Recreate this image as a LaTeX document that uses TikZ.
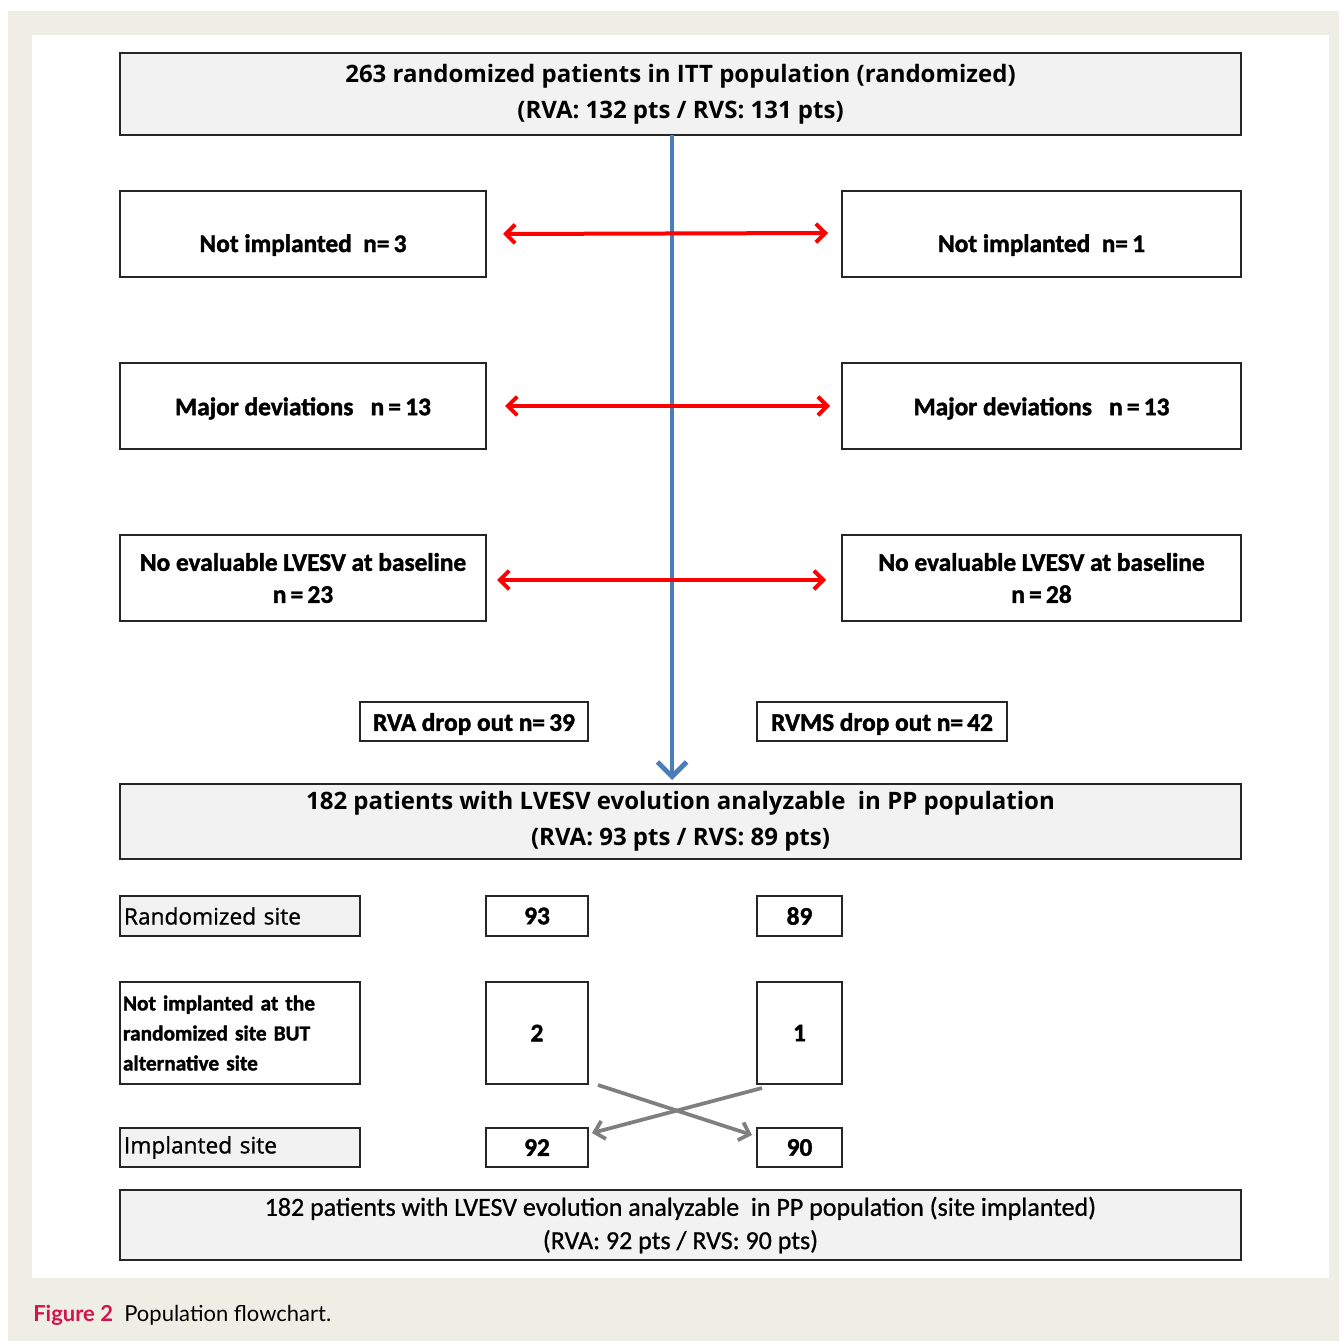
\documentclass[tikz,border=0pt]{standalone}
\usepackage{fontspec}
\setmainfont{Carlito}
\newfontfamily\heavy{Carlito}[BoldFeatures={FakeBold=1.6}]
\newfontfamily\semi{Carlito}[FakeBold=0.8]
\newfontfamily\segoe{Open Sans}
\newfontfamily\segoesemi{Open Sans}[FakeBold=0.9]
\newfontfamily\gill{Lato}
\usetikzlibrary{arrows.meta}
\definecolor{beige}{HTML}{EFEEE4}
\definecolor{boxgray}{HTML}{F2F2F2}
\definecolor{figred}{HTML}{D2144A}
\definecolor{bluearrow}{HTML}{4A7EBB}
\definecolor{crossgray}{HTML}{7F7F7F}
\newcommand{\bx}[7]{%
  \node[#6, minimum width={(#4-#2)*0.75pt}, minimum height={(#5-#3)*0.75pt}]
    (#1) at ({(#2+#4)/2},{(#3+#5)/2}) {#7};}
\tikzset{
  box/.style={draw=black!85, line width=1.4pt, inner sep=0pt, outer sep=0pt, align=center},
  graybox/.style={box, fill=boxgray},
  whitebox/.style={box, fill=white},
  bigtxt/.style={font=\segoe\bfseries\fontsize{18}{27}\selectfont},
  midtxt/.style={font=\heavy\bfseries\fontsize{19}{24}\selectfont},
  smalltxt/.style={font=\heavy\bfseries\fontsize{19}{22}\selectfont},
  redarrow/.style={draw=red, line width=3pt, {Straight Barb[length=7pt,width=14pt,line width=3pt]}-{Straight Barb[length=7pt,width=14pt,line width=3pt]}},
  bluearr/.style={draw=bluearrow, line width=3.6pt, -{Straight Barb[length=11pt,width=22pt,line width=3.6pt]}},
  grayarr/.style={draw=crossgray, line width=2.8pt, -{Straight Barb[length=7pt,width=14pt,line width=2.8pt]}},
}
\begin{document}
\begin{tikzpicture}[x=0.75pt,y=-0.75pt]
\useasboundingbox (0,0) rectangle (1339,1341);
\fill[beige] (8,11) rectangle (1339,1341);
\fill[white] (32,35) rectangle (1329,1278);

% top box
\bx{top}{120}{53}{1241}{135}{graybox,bigtxt}{263 randomized patients in ITT population (randomized)\\(RVA: 132 pts / RVS: 131 pts)}
% exclusion boxes
\bx{niL}{120}{191}{486}{277}{whitebox,midtxt}{\rule{0pt}{30pt}Not implanted~~n=\,3}
\bx{niR}{842}{191}{1241}{277}{whitebox,midtxt}{\rule{0pt}{30pt}Not implanted~~n=\,1}
\bx{mdL}{120}{363}{486}{449}{whitebox,midtxt}{\rule{0pt}{17pt}Major deviations~~~n\,=\,13}
\bx{mdR}{842}{363}{1241}{449}{whitebox,midtxt}{\rule{0pt}{17pt}Major deviations~~~n\,=\,13}
\bx{neL}{120}{535}{486}{621}{whitebox,midtxt}{No evaluable LVESV at baseline\\n\,=\,23}
\bx{neR}{842}{535}{1241}{621}{whitebox,midtxt}{No evaluable LVESV at baseline\\n\,=\,28}
% drop outs
\bx{doL}{360}{702}{588}{741}{whitebox,midtxt}{\rule{0pt}{17pt}RVA drop out n=\,39}
\bx{doR}{757}{702}{1007}{741}{whitebox,midtxt}{\rule{0pt}{17pt}RVMS drop out n=\,42}
% PP box
\bx{pp}{120}{784}{1241}{859}{graybox,bigtxt,font=\segoe\bfseries\fontsize{18}{27}\selectfont}{182 patients with LVESV evolution analyzable~ in PP population\\(RVA: 93 pts / RVS: 89 pts)}
% table
\bx{rs}{120}{896}{360}{936}{graybox,font=\segoesemi\fontsize{17}{20}\selectfont,text width=232*0.75pt,align=left}{Randomized site}
\bx{rsA}{486}{896}{588}{936}{whitebox,smalltxt}{93}
\bx{rsB}{757}{896}{842}{936}{whitebox,smalltxt}{89}
\bx{ni}{120}{982}{360}{1084}{whitebox,font=\heavy\bfseries\fontsize{16}{22.5}\selectfont,text width=234*0.75pt,align=left}{Not implanted at the\\randomized site BUT\\alternative site}
\bx{niA}{486}{982}{588}{1084}{whitebox,smalltxt}{2}
\bx{niB}{757}{982}{842}{1084}{whitebox,smalltxt}{1}
\bx{is}{120}{1128}{360}{1167}{graybox,font=\segoesemi\fontsize{17}{20}\selectfont,text width=232*0.75pt,align=left}{Implanted site}
\bx{isA}{486}{1128}{588}{1167}{whitebox,smalltxt}{92}
\bx{isB}{757}{1128}{842}{1167}{whitebox,smalltxt}{90}
% bottom box
\bx{bot}{120}{1190}{1241}{1260}{graybox,font=\semi\fontsize{19.5}{25}\selectfont}{182 patients with LVESV evolution analyzable~ in PP population (site implanted)\\(RVA: 92 pts / RVS: 90 pts)}

% connectors
\coordinate (bstart) at (672,135);
\coordinate (bend) at (672,780);
\draw[bluearr] (top.south -| bstart) -- (bend);
\coordinate (r1a) at (503,234); \coordinate (r1b) at (828,233);
\coordinate (r2a) at (505,406); \coordinate (r2b) at (830,406);
\coordinate (r3a) at (497,580); \coordinate (r3b) at (826,580);
\draw[redarrow] (r1a) -- (r1b);
\draw[redarrow] (r2a) -- (r2b);
\draw[redarrow] (r3a) -- (r3b);
\coordinate (c1s) at (598,1085); \coordinate (c1e) at (752,1135);
\coordinate (c2s) at (762,1088); \coordinate (c2e) at (592,1133);
\draw[grayarr] (c1s) -- (c1e);
\draw[grayarr] (c2s) -- (c2e);

% caption
\node[anchor=west, inner sep=0pt] (cap) at (33,1315) {\gill\fontsize{16.5}{20}\selectfont{\color{figred}\bfseries Figure 2}~~Population flowchart.};
\end{tikzpicture}
\end{document}
